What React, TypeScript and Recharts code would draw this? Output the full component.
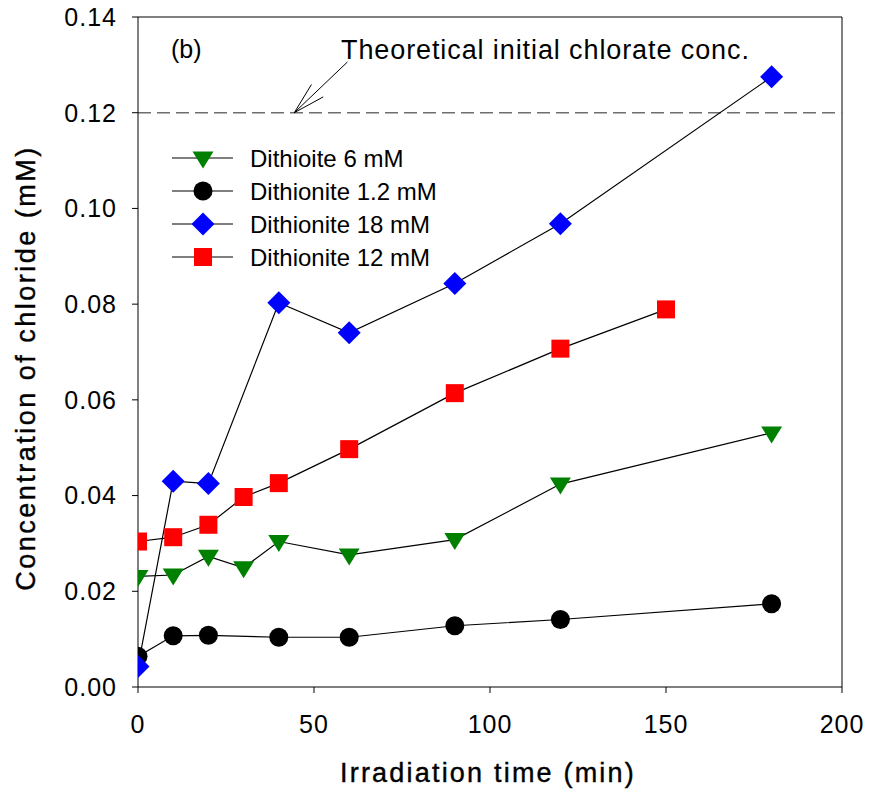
import React from "react";
import {
  LineChart,
  Line,
  XAxis,
  YAxis,
  ReferenceLine,
  Customized,
} from "recharts";

// Irradiation time (min) and chloride concentration (mM), null where no sample
const times = [0, 10, 20, 30, 40, 60, 90, 120, 150, 180];
const dithioite6 = [0.0231, 0.0234, 0.0273, 0.0249, 0.0304, 0.0276, 0.0308, 0.0424, null, 0.0531];
const dithionite1p2 = [0.0064, 0.0107, 0.0108, null, 0.0104, 0.0104, 0.0128, 0.0141, null, 0.0174];
const dithionite18 = [0.0043, 0.043, 0.0425, null, 0.0803, 0.074, 0.0843, 0.0968, null, 0.1275];
const dithionite12 = [0.0304, 0.0313, 0.0339, 0.0397, 0.0426, 0.0497, 0.0614, 0.0707, 0.0789, null];

const xTicks = [0, 50, 100, 150, 200];
const yTicks = [0, 0.02, 0.04, 0.06, 0.08, 0.1, 0.12, 0.14];
const theoreticalChlorate = 0.12;
// arrow from the annotation text down to the dashed line (data coords)
const arrowFrom = { x: 59.5, y: 0.1306 };
const arrowTo = { x: 44.4, y: 0.12 };

const data = times.map((t, i) => ({
  t,
  d6: dithioite6[i],
  d1: dithionite1p2[i],
  d18: dithionite18[i],
  d12: dithionite12[i],
}));

const FONT = '"Liberation Sans", Arial, sans-serif';

type Marker = "tri" | "circle" | "diamond" | "square";

function MarkerShape({ kind, cx, cy }: { kind: Marker; cx: number; cy: number }) {
  if (kind === "tri")
    return (
      <polygon
        points={`${cx - 10.5},${cy - 6.5} ${cx + 10.5},${cy - 6.5} ${cx},${cy + 10.5}`}
        fill="#008000"
      />
    );
  if (kind === "circle") return <circle cx={cx} cy={cy} r={9.5} fill="#000" />;
  if (kind === "diamond")
    return (
      <polygon
        points={`${cx},${cy - 11.5} ${cx + 11.5},${cy} ${cx},${cy + 11.5} ${cx - 11.5},${cy}`}
        fill="#0000ff"
      />
    );
  return <rect x={cx - 9} y={cy - 9} width={18} height={18} fill="#ff0000" />;
}

const series: { key: string; name: string; marker: Marker }[] = [
  { key: "d6", name: "Dithioite 6 mM", marker: "tri" },
  { key: "d1", name: "Dithionite 1.2 mM", marker: "circle" },
  { key: "d18", name: "Dithionite 18 mM", marker: "diamond" },
  { key: "d12", name: "Dithionite 12 mM", marker: "square" },
];
// drawing order (blue on top)
const drawOrder = ["d6", "d1", "d12", "d18"];

function makeDot(kind: Marker, key: string) {
  return (props: any) => {
    const { cx, cy, index } = props;
    if (cx == null || cy == null || props.value == null)
      return <g key={`${key}-${index}`} />;
    return (
      <g key={`${key}-${index}`}>
        <MarkerShape kind={kind} cx={cx} cy={cy} />
      </g>
    );
  };
}

function Arrow(props: any) {
  const { x1, y1, x2, y2 } = props;
  const ang = Math.atan2(y1 - y2, x1 - x2);
  const len = 33;
  const spread = (15 * Math.PI) / 180;
  const h1x = x2 + len * Math.cos(ang - spread);
  const h1y = y2 + len * Math.sin(ang - spread);
  const h2x = x2 + len * Math.cos(ang + spread);
  const h2y = y2 + len * Math.sin(ang + spread);
  return (
    <g stroke="#000" strokeWidth={1}>
      <line x1={x1} y1={y1} x2={x2} y2={y2} />
      <line x1={x2} y1={y2} x2={h1x} y2={h1y} />
      <line x1={x2} y1={y2} x2={h2x} y2={h2y} />
    </g>
  );
}

// legend, annotation and axis titles
function Overlay() {
  return (
    <g fontFamily={FONT} fill="#000">
      <g transform="translate(172,140)">
        {series.map((s, i) => {
          const cy = 18 + i * 33;
          return (
            <g key={s.key}>
              <line x1={0} x2={61} y1={cy} y2={cy} stroke="#000" strokeWidth={1.2} />
              <MarkerShape kind={s.marker} cx={31} cy={cy} />
              <text x={78} y={cy + 8.6} fontSize={24}>
                {s.name}
              </text>
            </g>
          );
        })}
      </g>
      <text x={171} y={58} fontSize={25}>
        (b)
      </text>
      <text x={341} y={59} fontSize={27} letterSpacing={0.9}>
        Theoretical initial chlorate conc.
      </text>
      <text
        x={488}
        y={782}
        fontSize={27}
        letterSpacing={2.2}
        textAnchor="middle"
        stroke="#000"
        strokeWidth={0.4}
      >
        Irradiation time (min)
      </text>
      <text
        transform="translate(35,368) rotate(-90)"
        fontSize={27}
        letterSpacing={2.5}
        textAnchor="middle"
        stroke="#000"
        strokeWidth={0.4}
      >
        Concentration of chloride (mM)
      </text>
    </g>
  );
}

export default function App() {
  return (
    <div style={{ position: "absolute", left: 0, top: 0, background: "#fff" }}>
      <LineChart
        width={870}
        height={793}
        data={data}
        margin={{ top: 17, right: 28, left: 0, bottom: 0 }}
        style={{ fontFamily: FONT }}
      >
        <XAxis
          dataKey="t"
          type="number"
          domain={[0, 200]}
          ticks={xTicks}
          allowDataOverflow
          height={106}
          stroke="#000"
          tickSize={6}
          tickMargin={22}
          tick={{ fill: "#000", fontSize: 25, letterSpacing: 1 }}
        />
        <YAxis
          type="number"
          domain={[0, 0.14]}
          ticks={yTicks}
          allowDataOverflow
          width={138}
          stroke="#000"
          tickSize={6}
          tickMargin={15}
          tickFormatter={(v: number) => v.toFixed(2)}
          tick={{ fill: "#000", fontSize: 25, letterSpacing: 1 }}
        />
        <ReferenceLine y={0.14} stroke="#000" strokeWidth={1} />
        <ReferenceLine x={200} stroke="#000" strokeWidth={1} />
        <ReferenceLine
          y={theoreticalChlorate}
          stroke="#6e6e6e"
          strokeWidth={1.5}
          strokeDasharray="13 6"
        />
        <ReferenceLine
          segment={[arrowFrom, arrowTo]}
          ifOverflow="visible"
          shape={Arrow}
        />
        {drawOrder.map((k) => {
          const s = series.find((x) => x.key === k)!;
          return (
            <Line
              key={k}
              dataKey={k}
              name={s.name}
              type="linear"
              stroke="#000"
              strokeWidth={1.2}
              connectNulls
              dot={makeDot(s.marker, k)}
              activeDot={false}
              isAnimationActive={false}
            />
          );
        })}
        <Customized component={Overlay} />
      </LineChart>
    </div>
  );
}
